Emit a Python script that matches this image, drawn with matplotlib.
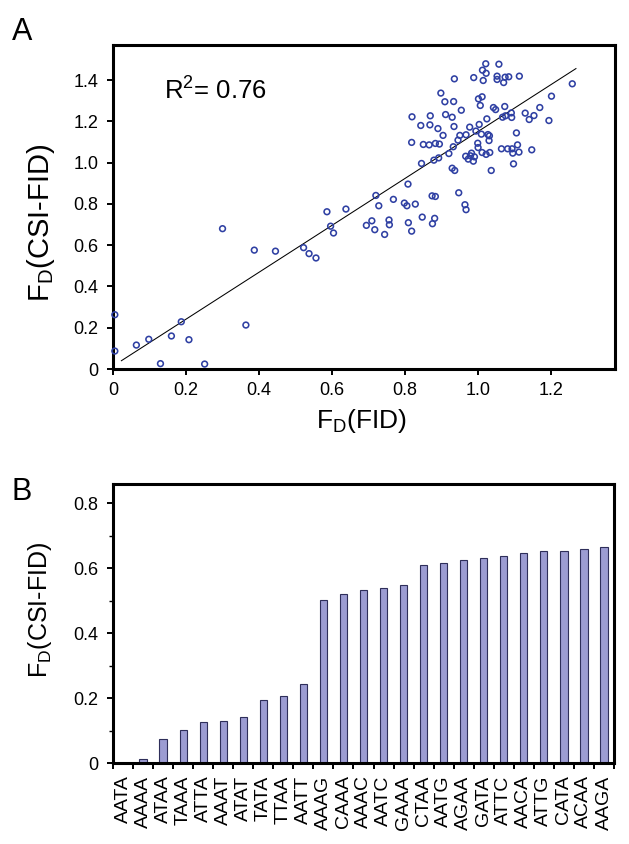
import numpy as np
import matplotlib
matplotlib.use("Agg")
import matplotlib.pyplot as plt
from matplotlib.ticker import FuncFormatter, MultipleLocator

plt.rcParams['font.family'] = ['Liberation Sans', 'DejaVu Sans']
plt.rcParams['mathtext.default'] = 'regular'

# ---------------- Panel A data ----------------
fid_x = [0.005, 0.005, 0.064, 0.098, 0.130, 0.160, 0.187, 0.208, 0.251, 0.300,
         0.364, 0.387, 0.445, 0.522, 0.537, 0.556, 0.586, 0.596, 0.604, 0.638,
         0.694, 0.709, 0.717, 0.720, 0.728, 0.744, 0.756, 0.757, 0.768, 0.798,
         0.805, 0.808, 0.809, 0.818, 0.828, 0.847, 0.874, 0.883, 0.881, 0.875,
         0.947, 0.964, 0.967,
         0.818, 0.819, 0.843, 0.845, 0.850, 0.866, 0.868, 0.869, 0.879, 0.883,
         0.890, 0.892, 0.894, 0.898, 0.904, 0.909, 0.911, 0.920, 0.929, 0.929,
         0.932, 0.933, 0.934, 0.935, 0.936, 0.945, 0.950, 0.954, 0.966, 0.967,
         0.973, 0.977, 0.979, 0.982, 0.987, 0.988, 0.990, 0.994, 0.999, 1.000,
         1.001, 1.003, 1.006, 1.009, 1.011, 1.011, 1.012, 1.014, 1.021, 1.022,
         1.022, 1.024, 1.027, 1.030, 1.031, 1.032, 1.036, 1.042, 1.048, 1.052,
         1.052, 1.057, 1.064, 1.067, 1.070, 1.073, 1.074, 1.075, 1.081, 1.084,
         1.091, 1.092, 1.093, 1.095, 1.097, 1.105, 1.108, 1.112, 1.113, 1.129,
         1.140, 1.147, 1.153, 1.169, 1.194, 1.201, 1.258]
csi_y = [0.263, 0.087, 0.116, 0.144, 0.026, 0.160, 0.229, 0.142, 0.024, 0.680,
         0.213, 0.576, 0.571, 0.588, 0.559, 0.538, 0.762, 0.692, 0.659, 0.775,
         0.696, 0.718, 0.675, 0.841, 0.791, 0.652, 0.722, 0.699, 0.822, 0.804,
         0.791, 0.896, 0.709, 0.668, 0.799, 0.736, 0.839, 0.836, 0.730, 0.704,
         0.854, 0.796, 0.772,
         1.098, 1.222, 1.180, 0.996, 1.088, 1.086, 1.183, 1.227, 1.012, 1.093,
         1.165, 1.023, 1.090, 1.337, 1.132, 1.295, 1.233, 1.044, 1.220, 0.973,
         1.077, 1.296, 1.175, 1.406, 0.962, 1.109, 1.132, 1.254, 1.031, 1.135,
         1.017, 1.172, 1.033, 1.046, 1.007, 1.412, 1.028, 1.153, 1.094, 1.073,
         1.309, 1.185, 1.277, 1.138, 1.319, 1.049, 1.448, 1.398, 1.479, 1.040,
         1.433, 1.212, 1.136, 1.107, 1.130, 1.049, 0.962, 1.267, 1.257, 1.403,
         1.419, 1.477, 1.067, 1.220, 1.388, 1.272, 1.414, 1.227, 1.067, 1.416,
         1.241, 1.219, 1.067, 1.046, 0.994, 1.144, 1.086, 1.051, 1.419, 1.240,
         1.209, 1.062, 1.228, 1.267, 1.204, 1.322, 1.382]
fit_slope = 1.137
fit_intercept = 0.014
fit_x_range = [0.023, 1.268]
r_squared = 0.76

# ---------------- Panel B data ----------------
motifs = ['AATA', 'AAAA', 'ATAA', 'TAAA', 'ATTA', 'AAAT', 'ATAT', 'TATA', 'TTAA',
          'AATT', 'AAAG', 'CAAA', 'AAAC', 'AATC', 'GAAA', 'CTAA', 'AATG', 'AGAA',
          'GATA', 'ATTC', 'AACA', 'ATTG', 'CATA', 'ACAA', 'AAGA']
motif_fd = [0.0, 0.013, 0.073, 0.103, 0.126, 0.128, 0.142, 0.194, 0.208, 0.242,
            0.503, 0.521, 0.534, 0.538, 0.549, 0.610, 0.616, 0.627, 0.633, 0.638,
            0.647, 0.653, 0.655, 0.660, 0.665]

W, H = 629, 844
fig = plt.figure(figsize=(W / 100, H / 100), dpi=100)

def fmt(v, pos):
    return '0' if abs(v) < 1e-9 else f'{v:.1f}'

spine_w = 2.2
tick_fs = 13

# ---- Panel A ----
axA = fig.add_axes([113 / W, 1 - 369 / H, 502 / W, 324 / H])
axA.scatter(fid_x, csi_y, s=17, facecolors='none', edgecolors='#2f40a3',
            linewidths=1.15, clip_on=False, zorder=3)
fx = np.array(fit_x_range)
axA.plot(fx, fit_slope * fx + fit_intercept, color='black', lw=0.75, zorder=2)
axA.set_xlim(0, 1.375)
axA.set_ylim(0, 1.57)
axA.xaxis.set_major_locator(MultipleLocator(0.2))
axA.yaxis.set_major_locator(MultipleLocator(0.2))
axA.xaxis.set_major_formatter(FuncFormatter(fmt))
axA.yaxis.set_major_formatter(FuncFormatter(fmt))
axA.tick_params(axis='both', direction='out', length=4, width=1.4, labelsize=tick_fs)
axA.tick_params(axis='y', pad=6.5)
axA.tick_params(axis='x', pad=5.5)
for s in axA.spines.values():
    s.set_linewidth(spine_w)
axA.set_xlabel('F$_{D}$(FID)', fontsize=19)
axA.xaxis.set_label_coords(0.494, -0.118)
axA.set_ylabel('F$_{D}$(CSI-FID)', fontsize=21)
axA.yaxis.set_label_coords(-0.112, 0.45)
axA.text(0.102, 0.833, 'R$^{2}$= 0.76', transform=axA.transAxes,
         fontsize=18.5, ha='left', va='baseline')

# ---- Panel B ----
axB = fig.add_axes([113 / W, 1 - 763 / H, 501 / W, 279 / H])
pos = np.arange(len(motifs))
axB.bar(pos, motif_fd, width=0.36, color='#9c9cd2', edgecolor='#2e2e5a',
        linewidth=0.8, zorder=2)
axB.set_xlim(-0.5, len(motifs) - 0.5)
axB.set_ylim(0, 0.86)
axB.set_xticks(np.arange(len(motifs) + 1) - 0.5)
axB.set_xticklabels([])
axB.set_xticks(pos, minor=True)
axB.set_xticklabels(motifs, minor=True, rotation=90, fontsize=14)
axB.tick_params(axis='x', which='major', direction='out', length=4, width=1.4)
axB.tick_params(axis='x', which='minor', length=0, pad=9)
axB.yaxis.set_major_locator(MultipleLocator(0.2))
axB.yaxis.set_minor_locator(MultipleLocator(0.1))
axB.yaxis.set_major_formatter(FuncFormatter(fmt))
axB.tick_params(axis='y', which='major', direction='out', length=4, width=1.4,
                labelsize=tick_fs, pad=6.5)
axB.tick_params(axis='y', which='minor', direction='out', length=3, width=1.0)
for s in axB.spines.values():
    s.set_linewidth(spine_w)
axB.set_ylabel('F$_{D}$(CSI-FID)', fontsize=18)
axB.yaxis.set_label_coords(-0.118, 0.55)

fig.text(12 / W, 1 - 40 / H, 'A', fontsize=22, ha='left', va='baseline')
fig.text(12 / W, 1 - 500 / H, 'B', fontsize=22, ha='left', va='baseline')

fig.savefig('out.png', dpi=100)
